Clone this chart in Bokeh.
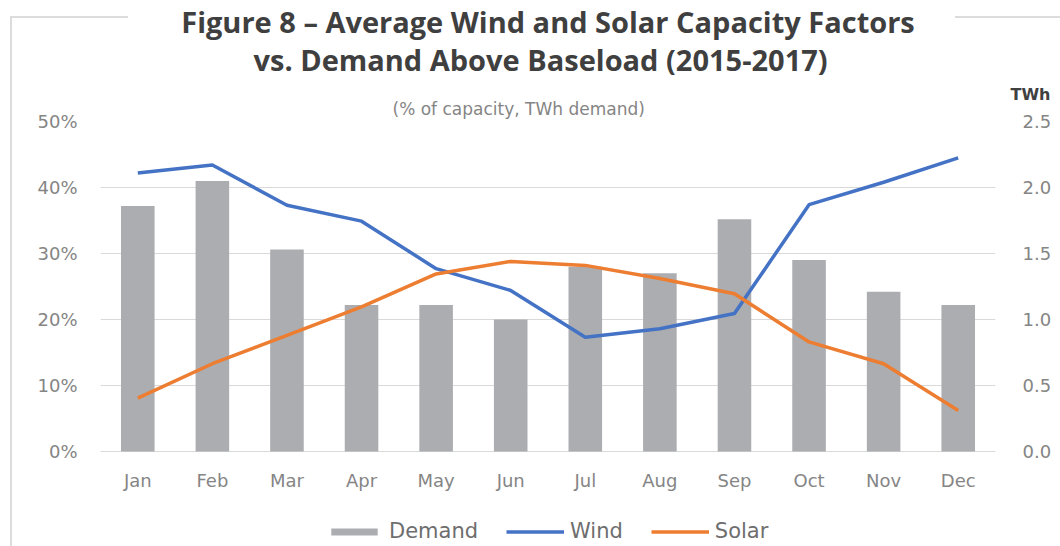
from bokeh.plotting import figure
from bokeh.models import (Range1d, FactorRange, LinearAxis, Legend, LegendItem, Title,
                          FixedTicker, PrintfTickFormatter)
from bokeh.embed import file_html
from bokeh.resources import INLINE

# Monthly averages, 2015-2017
months = ["Jan", "Feb", "Mar", "Apr", "May", "Jun",
          "Jul", "Aug", "Sep", "Oct", "Nov", "Dec"]
demand_twh = [1.86, 2.05, 1.53, 1.11, 1.11, 1.00, 1.40, 1.35, 1.76, 1.45, 1.21, 1.11]
wind_pct = [42.2, 43.4, 37.3, 34.9, 27.7, 24.4, 17.3, 18.6, 20.9, 37.4, 40.8, 44.5]
solar_pct = [8.1, 13.3, 17.6, 21.9, 26.9, 28.8, 28.2, 26.2, 23.9, 16.6, 13.3, 6.2]
pct_ticks = [0, 10, 20, 30, 40, 50]
twh_ticks = [0.0, 0.5, 1.0, 1.5, 2.0, 2.5]

TITLE_1 = "Figure 8 \u2013 Average Wind and Solar Capacity Factors"
TITLE_2 = "vs. Demand Above Baseload (2015-2017)"
SUBTITLE = "(% of capacity, TWh demand)"
UNIT = "TWh"

W, H = 1060, 546
L, R, T = 100, 995, 121   # plot frame edges on the page
ZERO_Y = 451              # page row of the 0 % / 0.0 TWh baseline
PCT_MAX, TWH_MAX = 50, 2.5
PX_PER_PCT = (ZERO_Y - T) / PCT_MAX
PX_PER_TWH = (ZERO_Y - T) / TWH_MAX
MONTH_AXIS_Y = 490        # page row the month axis hangs from

BLUE = "#4472C4"
ORANGE = "#ED7D31"
GREY_BAR = "#ABADB0"
GRID = "#D9D9D9"
FRAME_LINE = "#DCDCDC"
TICK_TXT = "#858585"
FONT = "DejaVu Sans"
TITLE_FONT = "Open Sans"

# the frame runs down to the page bottom so the legend can sit inside it
p = figure(width=W, height=H, output_backend="svg", toolbar_location=None,
           x_range=FactorRange(*months, range_padding=0),
           y_range=Range1d(-(H - ZERO_Y) / PX_PER_PCT, PCT_MAX),
           min_border_left=L, min_border_right=W - R,
           min_border_top=T, min_border_bottom=0)
p.extra_y_ranges = {"twh": Range1d(-(H - ZERO_Y) / PX_PER_TWH, TWH_MAX)}
p.outline_line_color = None
p.background_fill_alpha = 0
p.border_fill_alpha = 0

# light frame around the chart, broken where the title sits
p.styles = {
    "background-color": "white",
    "background-image": ", ".join([f"linear-gradient({FRAME_LINE}, {FRAME_LINE})"] * 3),
    "background-size": "118px 2px, 105px 2px, 2px 540px",
    "background-position": "10px 16px, 955px 16px, 10px 16px",
    "background-repeat": "no-repeat",
}

bars = p.vbar(x=months, top=demand_twh, width=0.45, y_range_name="twh",
              fill_color=GREY_BAR, line_color=None)
wind = p.line(months, wind_pct, line_color=BLUE, line_width=3.5, line_join="round")
solar = p.line(months, solar_pct, line_color=ORANGE, line_width=3.5, line_join="round")

# headings, stacked upwards from the plot frame
p.add_layout(Title(text=SUBTITLE, align="left", offset=292, standoff=6,
                   text_font=FONT, text_font_size="17px", text_font_style="normal",
                   text_color=TICK_TXT, text_line_height=1.0), "above")
p.add_layout(Title(text=UNIT, align="right", offset=-(W - 10 - R), standoff=-20,
                   text_font=FONT, text_font_size="16px", text_font_style="bold",
                   text_color="#404040", text_line_height=1.0), "above")
p.add_layout(Title(text=TITLE_2, align="left", offset=153, standoff=27,
                   text_font=TITLE_FONT, text_font_size="29px", text_font_style="bold",
                   text_color="#3F3F3F", text_line_height=1.0), "above")
p.title.text = TITLE_1
p.title.align = "center"
p.title.standoff = -32
p.title.text_font = TITLE_FONT
p.title.text_font_size = "29px"
p.title.text_font_style = "bold"
p.title.text_color = "#3F3F3F"
p.title.text_line_height = 1.0

# grid and axes
p.xgrid.grid_line_color = None
p.ygrid.grid_line_color = GRID
p.ygrid.grid_line_width = 1.2
p.ygrid.ticker = FixedTicker(ticks=pct_ticks)

xa = p.xaxis[0]
yl = p.yaxis[0]
yl.ticker = FixedTicker(ticks=pct_ticks)
yl.formatter = PrintfTickFormatter(format="%d%%")
yr = LinearAxis(y_range_name="twh", ticker=FixedTicker(ticks=twh_ticks),
                formatter=PrintfTickFormatter(format="%.1f"))
p.add_layout(yr, "right")

for ax in (xa, yl, yr):
    ax.axis_line_color = None
    ax.major_tick_line_color = None
    ax.minor_tick_line_color = None
    ax.major_tick_out = 0
    ax.major_tick_in = 0
    ax.major_label_text_font = FONT
    ax.major_label_text_font_size = "18px"
    ax.major_label_text_color = TICK_TXT
yl.major_label_standoff = 23
yr.major_label_standoff = 27

# month axis hangs inside the frame, just under the 0 % baseline
xa.fixed_location = -(MONTH_AXIS_Y - ZERO_Y) / PX_PER_PCT
xa.major_label_standoff = -21

legend = Legend(items=[LegendItem(label="Demand", renderers=[bars]),
                       LegendItem(label="Wind", renderers=[wind]),
                       LegendItem(label="Solar", renderers=[solar])],
                orientation="horizontal", location=(225, 3),
                glyph_width=58, glyph_height=9, label_standoff=6, spacing=28,
                padding=0, margin=0, border_line_color=None,
                background_fill_alpha=0, label_text_font=FONT,
                label_text_font_size="21px", label_text_color="#6E6E6E")
p.add_layout(legend, "center")

open("out.html", "w").write(file_html(p, INLINE))
